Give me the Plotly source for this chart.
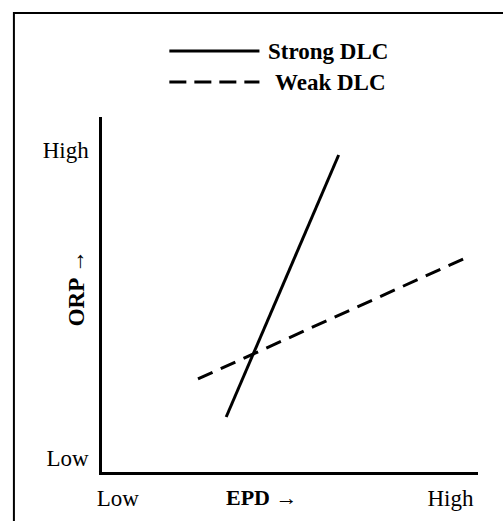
import plotly.graph_objects as go

# Data (chart units: 0 = Low, 10 = High)
strong_x = [3.3, 6.29]
strong_y = [1.55, 8.93]
weak_x = [2.55, 9.6]
weak_y = [2.62, 6.0]

x_tick_vals = [0.42, 9.26]
x_tick_text = ["Low", "High"]
y_tick_vals = [0.39, 9.07]
y_tick_text = ["Low", "High"]

series_names = ["Strong DLC", "Weak DLC"]

W, H = 503, 521
FONT = "Liberation Serif"

def px(x):
    return x / W

def py(y):
    return 1 - y / H

fig = go.Figure()
fig.add_trace(go.Scatter(x=strong_x, y=strong_y, mode="lines", name=series_names[0],
                         line=dict(color="black", width=3), showlegend=False))
fig.add_trace(go.Scatter(x=weak_x, y=weak_y, mode="lines", name=series_names[1],
                         line=dict(color="black", width=3, dash="16px,9px"), showlegend=False))

# Legend keys (drawn manually to match long key lines)
fig.add_shape(type="line", xref="paper", yref="paper", x0=px(166), x1=px(257), y0=py(51), y1=py(51),
              line=dict(color="black", width=3))
fig.add_shape(type="line", xref="paper", yref="paper", x0=px(166), x1=px(257), y0=py(82), y1=py(82),
              line=dict(color="black", width=3, dash="17px,8px"))
fig.add_annotation(xref="paper", yref="paper", x=px(264), y=py(51), xanchor="left", yanchor="middle",
                   text="<b>" + series_names[0] + "</b>", showarrow=False,
                   font=dict(family=FONT, size=23, color="black"))
fig.add_annotation(xref="paper", yref="paper", x=px(271), y=py(82), xanchor="left", yanchor="middle",
                   text="<b>" + series_names[1] + "</b>", showarrow=False,
                   font=dict(family=FONT, size=23, color="black"))

# Outer frame
fig.add_shape(type="rect", xref="paper", yref="paper", x0=px(9), x1=px(520), y0=py(540), y1=py(13),
              line=dict(color="black", width=2), layer="below")

# Axis titles
fig.add_annotation(xref="paper", yref="paper", x=px(260), y=py(497), xanchor="center", yanchor="middle",
                   text="<b>EPD →</b>", showarrow=False, font=dict(family=FONT, size=22, color="black"))
fig.add_annotation(xref="paper", yref="paper", x=px(72), y=py(288), xanchor="center", yanchor="middle",
                   text="<b>ORP →</b>", textangle=-90, showarrow=False,
                   font=dict(family=FONT, size=23, color="black"))

fig.update_layout(
    width=W, height=H,
    margin=dict(l=0, r=0, t=0, b=0),
    paper_bgcolor="white", plot_bgcolor="white",
    xaxis=dict(domain=[px(98), px(478)], range=[0, 10], showgrid=False, zeroline=False,
               showline=True, linecolor="black", linewidth=2.5,
               tickvals=x_tick_vals, ticktext=x_tick_text, ticks="", ticklabelstandoff=4,
               tickfont=dict(family=FONT, size=23, color="black")),
    yaxis=dict(domain=[py(472), py(117)], range=[0, 10], showgrid=False, zeroline=False,
               showline=True, linecolor="black", linewidth=2.5,
               tickvals=y_tick_vals, ticktext=y_tick_text, ticks="", ticklabelstandoff=6,
               tickfont=dict(family=FONT, size=23, color="black")),
    showlegend=False,
)

fig.write_html("out.html", config={"displayModeBar": False},
               post_script="document.body.style.margin='0';document.body.style.overflow='hidden';")
